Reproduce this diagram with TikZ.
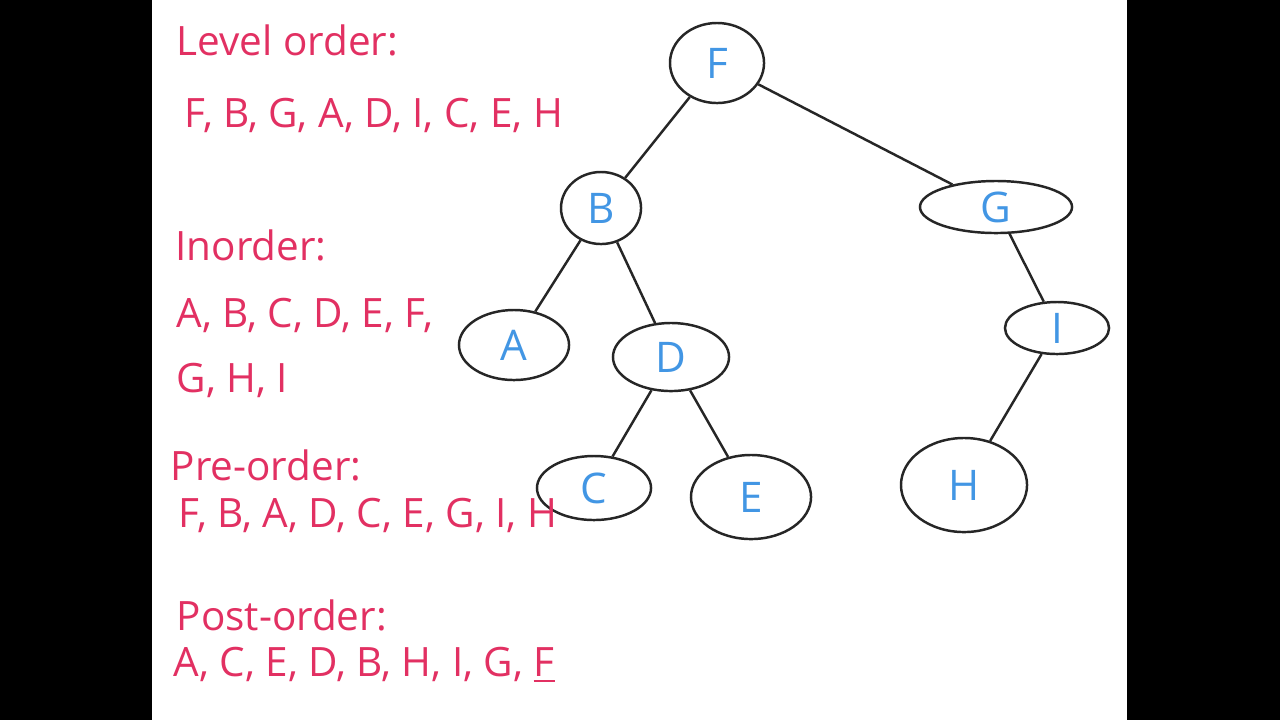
\documentclass[tikz,border=0pt]{standalone}
\usepackage{fontspec}
\setmainfont{Open Sans}
\usetikzlibrary{shapes.geometric}
\definecolor{pink}{RGB}{226,48,98}
\definecolor{lblue}{RGB}{66,150,228}
\begin{document}
\begin{tikzpicture}[x=0.01cm,y=-0.01cm,
  nd/.style={draw=black!85,line width=0.7pt,ellipse,inner sep=0pt,text=lblue,font=\fontsize{12}{14}\selectfont},
  tx/.style={anchor=west,text=pink,inner sep=0pt,font=\fontsize{11.5}{14}\selectfont},
  ed/.style={line width=0.7pt,black!85}]
\useasboundingbox (0,0) rectangle (1280,720);
\fill[black] (0,0) rectangle (152,720);
\fill[black] (1127,0) rectangle (1280,720);
\fill[white] (152,0) rectangle (1127,720);
\node[nd,minimum width=0.94cm,minimum height=0.80cm] (F) at (717,63) {F};
\node[nd,minimum width=0.80cm,minimum height=0.72cm] (B) at (601,208) {B};
\node[nd,minimum width=1.52cm,minimum height=0.52cm] (G) at (996,207) {G};
\node[nd,minimum width=1.10cm,minimum height=0.70cm] (A) at (514,345) {A};
\node[nd,minimum width=1.16cm,minimum height=0.68cm] (D) at (671,357) {D};
\node[nd,minimum width=1.04cm,minimum height=0.52cm] (I) at (1057,328) {I};
\node[nd,minimum width=1.14cm,minimum height=0.64cm] (C) at (594,488) {C};
\node[nd,minimum width=1.20cm,minimum height=0.84cm] (E) at (751,497) {E};
\node[nd,minimum width=1.26cm,minimum height=0.94cm] (H) at (964,485) {H};
\draw[ed] (F) -- (B);
\draw[ed] (F) -- (G);
\draw[ed] (B) -- (A);
\draw[ed] (B) -- (D);
\draw[ed] (G) -- (I);
\draw[ed] (D) -- (C);
\draw[ed] (D) -- (E);
\draw[ed] (I) -- (H);
\node[tx] (t1) at (176,40) {Level order:};
\node[tx] (t2) at (184,115) {F, B, G, A, D, I, C, E, H};
\node[tx] (t3) at (175,245) {Inorder:};
\node[tx] (t4) at (176,315) {A, B, C, D, E, F,};
\node[tx] (t5) at (176,380) {G, H, I};
\node[tx] (t6) at (170,465) {Pre-order:};
\node[tx] (t7) at (178,515) {F, B, A, D, C, E, G, I, H};
\node[tx] (t8) at (176,615) {Post-order:};
\node[tx] (t9) at (173,665) {A, C, E, D, B, H, I, G, \underline{F}};
\end{tikzpicture}
\end{document}
